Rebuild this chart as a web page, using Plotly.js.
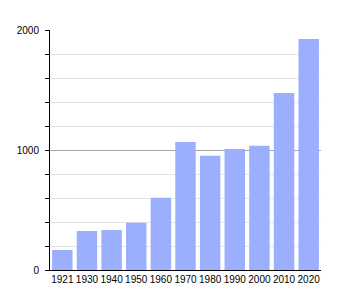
<!DOCTYPE html>
<html>
<head>
<meta charset="utf-8">
<script src="https://cdn.plot.ly/plotly-3.0.1.min.js"></script>
<style>html,body{margin:0;padding:0;background:#fff;}#chart{width:350px;height:300px;}</style>
</head>
<body>
<div id="chart"></div>
<script>
const years = ['1921','1930','1940','1950','1960','1970','1980','1990','2000','2010','2020'];
const population = [167, 325, 333, 394, 603, 1067, 953, 1008, 1036, 1475, 1925];
const yTickValues = [0, 1000, 2000];
const yTickLabels = ['0', '1000', '2000'];

const trace = {
  type: 'bar',
  x: years,
  y: population,
  marker: {color: '#9cafff', line: {width: 0}},
  hoverinfo: 'x+y'
};

const layout = {
  width: 350,
  height: 300,
  margin: {l: 50, r: 29, t: 30, b: 30, pad: 0},
  paper_bgcolor: '#ffffff',
  plot_bgcolor: '#ffffff',
  bargap: 0.17,
  showlegend: false,
  font: {family: 'Liberation Sans, Arial, sans-serif', size: 10, color: '#000'},
  xaxis: {
    type: 'category',
    showline: true,
    linecolor: '#000',
    linewidth: 1,
    ticks: '',
    tickangle: 0,
    showgrid: false,
    zeroline: false,
    tickfont: {size: 10, color: '#000'},
    ticklabelstandoff: 0
  },
  yaxis: {
    range: [0, 2000],
    tickvals: yTickValues,
    ticktext: yTickLabels,
    showline: true,
    linecolor: '#000',
    linewidth: 1,
    ticks: 'outside',
    ticklen: 4,
    tickcolor: '#000',
    showgrid: true,
    gridcolor: '#a8a8a8',
    gridwidth: 1,
    zeroline: false,
    tickfont: {size: 10, color: '#000'},
    ticklabelstandoff: 4,
    minor: {
      dtick: 200,
      ticks: 'outside',
      ticklen: 4,
      tickcolor: '#000',
      showgrid: true,
      gridcolor: '#e4e4e4',
      gridwidth: 1
    }
  }
};

Plotly.newPlot('chart', [trace], layout, {staticPlot: true, displayModeBar: false});
</script>
</body>
</html>
